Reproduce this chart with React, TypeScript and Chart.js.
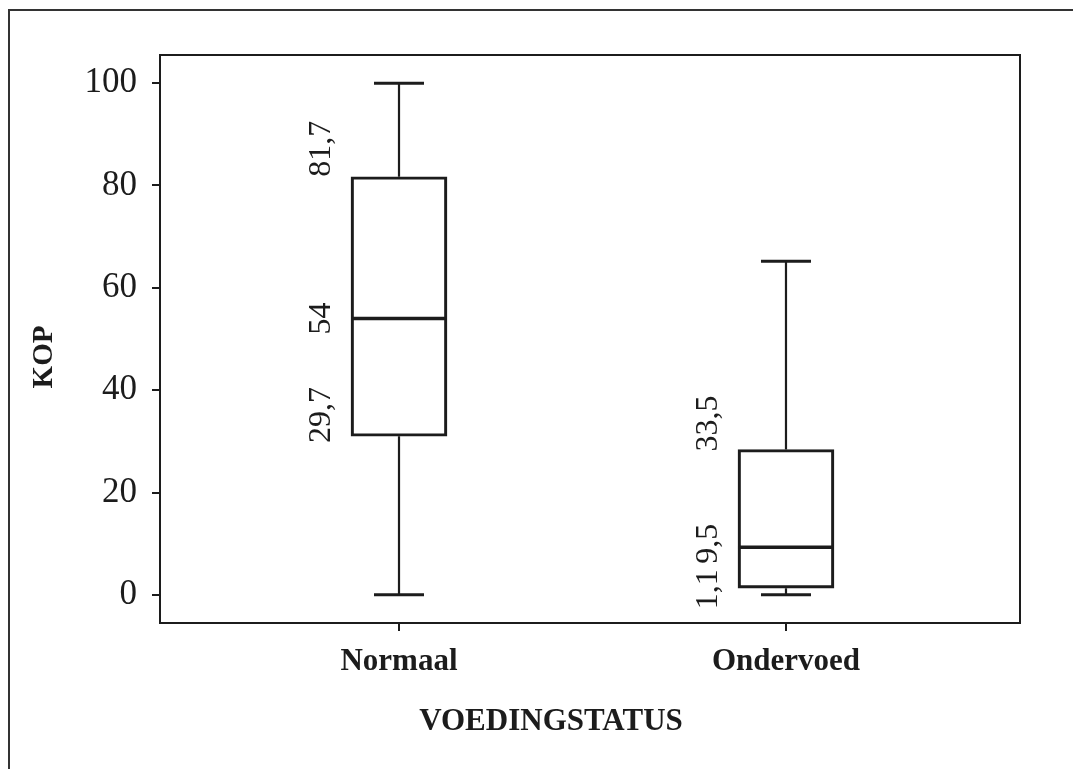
import React, { useEffect, useRef } from "react";
import { Chart, registerables } from "chart.js";

Chart.register(...registerables);

// ---- data ----
const categories = ["Normaal", "Ondervoed"];
const whiskerMin = [0, 0];
const quartile1 = [31, 1.3];
const medians = [54, 9.3];
const quartile3 = [81.7, 28.4];
const whiskerMax = [100, 65.2];

// printed value labels next to the boxes
const q3Labels = ["81,7", "33,5"];
const q3LabelValues = [81.7, 33.5];
const medianLabels = ["54", "9,5"];
const medianLabelValues = [54, 10];
const q1Labels = ["29,7", "1,1"];
const q1LabelValues = [29.7, 1.1];

const yTicks = [0, 20, 40, 60, 80, 100];
const xTitle = "VOEDINGSTATUS";
const yTitle = "KOP";

const FONT = "'Liberation Serif', 'Times New Roman', serif";
const INK = "#1c1c1c";

const boxPlugin = {
  id: "boxExtras",
  beforeDraw(chart: any) {
    const { ctx } = chart;
    ctx.save();
    ctx.fillStyle = "#ffffff";
    ctx.fillRect(0, 0, chart.width, chart.height);
    // outer page frame (top + left)
    ctx.strokeStyle = "#333";
    ctx.lineWidth = 2;
    ctx.beginPath();
    ctx.moveTo(chart.width, 10);
    ctx.lineTo(9, 10);
    ctx.lineTo(9, chart.height);
    ctx.stroke();
    ctx.restore();
  },
  afterDatasetsDraw(chart: any) {
    const { ctx, chartArea } = chart;
    const xs = chart.scales.x;
    const ys = chart.scales.y;
    const meta = chart.getDatasetMeta(0);
    ctx.save();
    ctx.strokeStyle = INK;
    ctx.lineCap = "butt";
    categories.forEach((_, i) => {
      const cx = xs.getPixelForValue(i + 1);
      const bar = meta.data[i];
      const half = bar ? bar.width / 2 : 48;
      const capHalf = 25;
      // whiskers
      ctx.lineWidth = 2.2;
      ctx.beginPath();
      ctx.moveTo(cx, ys.getPixelForValue(quartile3[i]));
      ctx.lineTo(cx, ys.getPixelForValue(whiskerMax[i]));
      ctx.moveTo(cx, ys.getPixelForValue(quartile1[i]));
      ctx.lineTo(cx, ys.getPixelForValue(whiskerMin[i]));
      ctx.stroke();
      // caps
      ctx.lineWidth = 3;
      ctx.beginPath();
      ctx.moveTo(cx - capHalf, ys.getPixelForValue(whiskerMax[i]));
      ctx.lineTo(cx + capHalf, ys.getPixelForValue(whiskerMax[i]));
      ctx.moveTo(cx - capHalf, ys.getPixelForValue(whiskerMin[i]));
      ctx.lineTo(cx + capHalf, ys.getPixelForValue(whiskerMin[i]));
      ctx.stroke();
      // median
      ctx.lineWidth = 3.5;
      ctx.beginPath();
      ctx.moveTo(cx - half, ys.getPixelForValue(medians[i]));
      ctx.lineTo(cx + half, ys.getPixelForValue(medians[i]));
      ctx.stroke();

      // rotated value labels
      const lx = cx - half - 29;
      ctx.fillStyle = INK;
      ctx.font = `32px ${FONT}`;
      ctx.textBaseline = "middle";
      const items: [string, number, CanvasTextAlign][] = [
        [q3Labels[i], q3LabelValues[i], i === 0 ? "left" : "center"],
        [medianLabels[i], medianLabelValues[i], "center"],
        [q1Labels[i], q1LabelValues[i], i === 0 ? "left" : "center"],
      ];
      items.forEach(([t, v, a]) => {
        ctx.save();
        ctx.translate(lx, ys.getPixelForValue(v));
        ctx.rotate(-Math.PI / 2);
        ctx.textAlign = a;
        ctx.fillText(t, 0, 0);
        ctx.restore();
      });
    });
    // plot frame
    ctx.lineWidth = 2;
    ctx.strokeStyle = INK;
    ctx.strokeRect(
      chartArea.left,
      chartArea.top,
      chartArea.right - chartArea.left,
      chartArea.bottom - chartArea.top
    );

    // axis titles
    ctx.fillStyle = INK;
    ctx.textAlign = "center";
    ctx.textBaseline = "middle";
    ctx.font = `bold 31px ${FONT}`;
    ctx.fillText(xTitle, 551, 722);
    ctx.save();
    ctx.translate(45, 357);
    ctx.rotate(-Math.PI / 2);
    ctx.font = `bold 29px ${FONT}`;
    ctx.fillText(yTitle, 0, 0);
    ctx.restore();
    ctx.restore();
  },
};

export default function App() {
  const ref = useRef<HTMLCanvasElement | null>(null);
  useEffect(() => {
    if (!ref.current) return;
    const chart = new Chart(ref.current, {
      type: "bar",
      data: {
        datasets: [
          {
            data: categories.map((_, i) => ({ x: i + 1, y: [quartile1[i], quartile3[i]] })) as any,
            backgroundColor: "rgba(255,255,255,0)",
            borderColor: INK,
            borderWidth: 2.5,
            borderSkipped: false,
            barThickness: 96,
          },
        ],
      },
      options: {
        animation: false,
        responsive: false,
        devicePixelRatio: 1,
        layout: { padding: { top: 55, right: 53, left: 0, bottom: 0 } },
        plugins: { legend: { display: false }, tooltip: { enabled: false } },
        scales: {
          x: {
            type: "linear",
            offset: false,
            min: 0.3824,
            max: 2.6047,
            afterFit(scale: any) {
              scale.height = 146;
            },
            afterBuildTicks(scale: any) {
              scale.ticks = categories.map((_, i) => ({ value: i + 1 }));
            },
            ticks: {
              callback: (v: any) => categories[Number(v) - 1] ?? "",
              font: { family: FONT, size: 31, weight: "bold" },
              color: INK,
              padding: 12,
              maxRotation: 0,
              autoSkip: false,
            },
            grid: { offset: false, drawOnChartArea: false, tickLength: 8, color: INK, lineWidth: 2 },
            border: { display: false },
          },
          y: {
            type: "linear",
            min: -5.5,
            max: 105.5,
            afterFit(scale: any) {
              scale.width = 160;
            },
            afterBuildTicks(scale: any) {
              scale.ticks = yTicks.map((v) => ({ value: v }));
            },
            ticks: {
              font: { family: FONT, size: 35 },
              color: INK,
              padding: 15,
            },
            grid: { drawOnChartArea: false, tickLength: 8, color: INK, lineWidth: 2 },
            border: { display: false },
          },
        },
      },
      plugins: [boxPlugin],
    });
    return () => chart.destroy();
  }, []);
  return (
    <div style={{ position: "fixed", left: 0, top: 0, width: 1073, height: 769, background: "#fff" }}>
      <canvas ref={ref} width={1073} height={769} style={{ display: "block", width: 1073, height: 769 }} />
    </div>
  );
}
